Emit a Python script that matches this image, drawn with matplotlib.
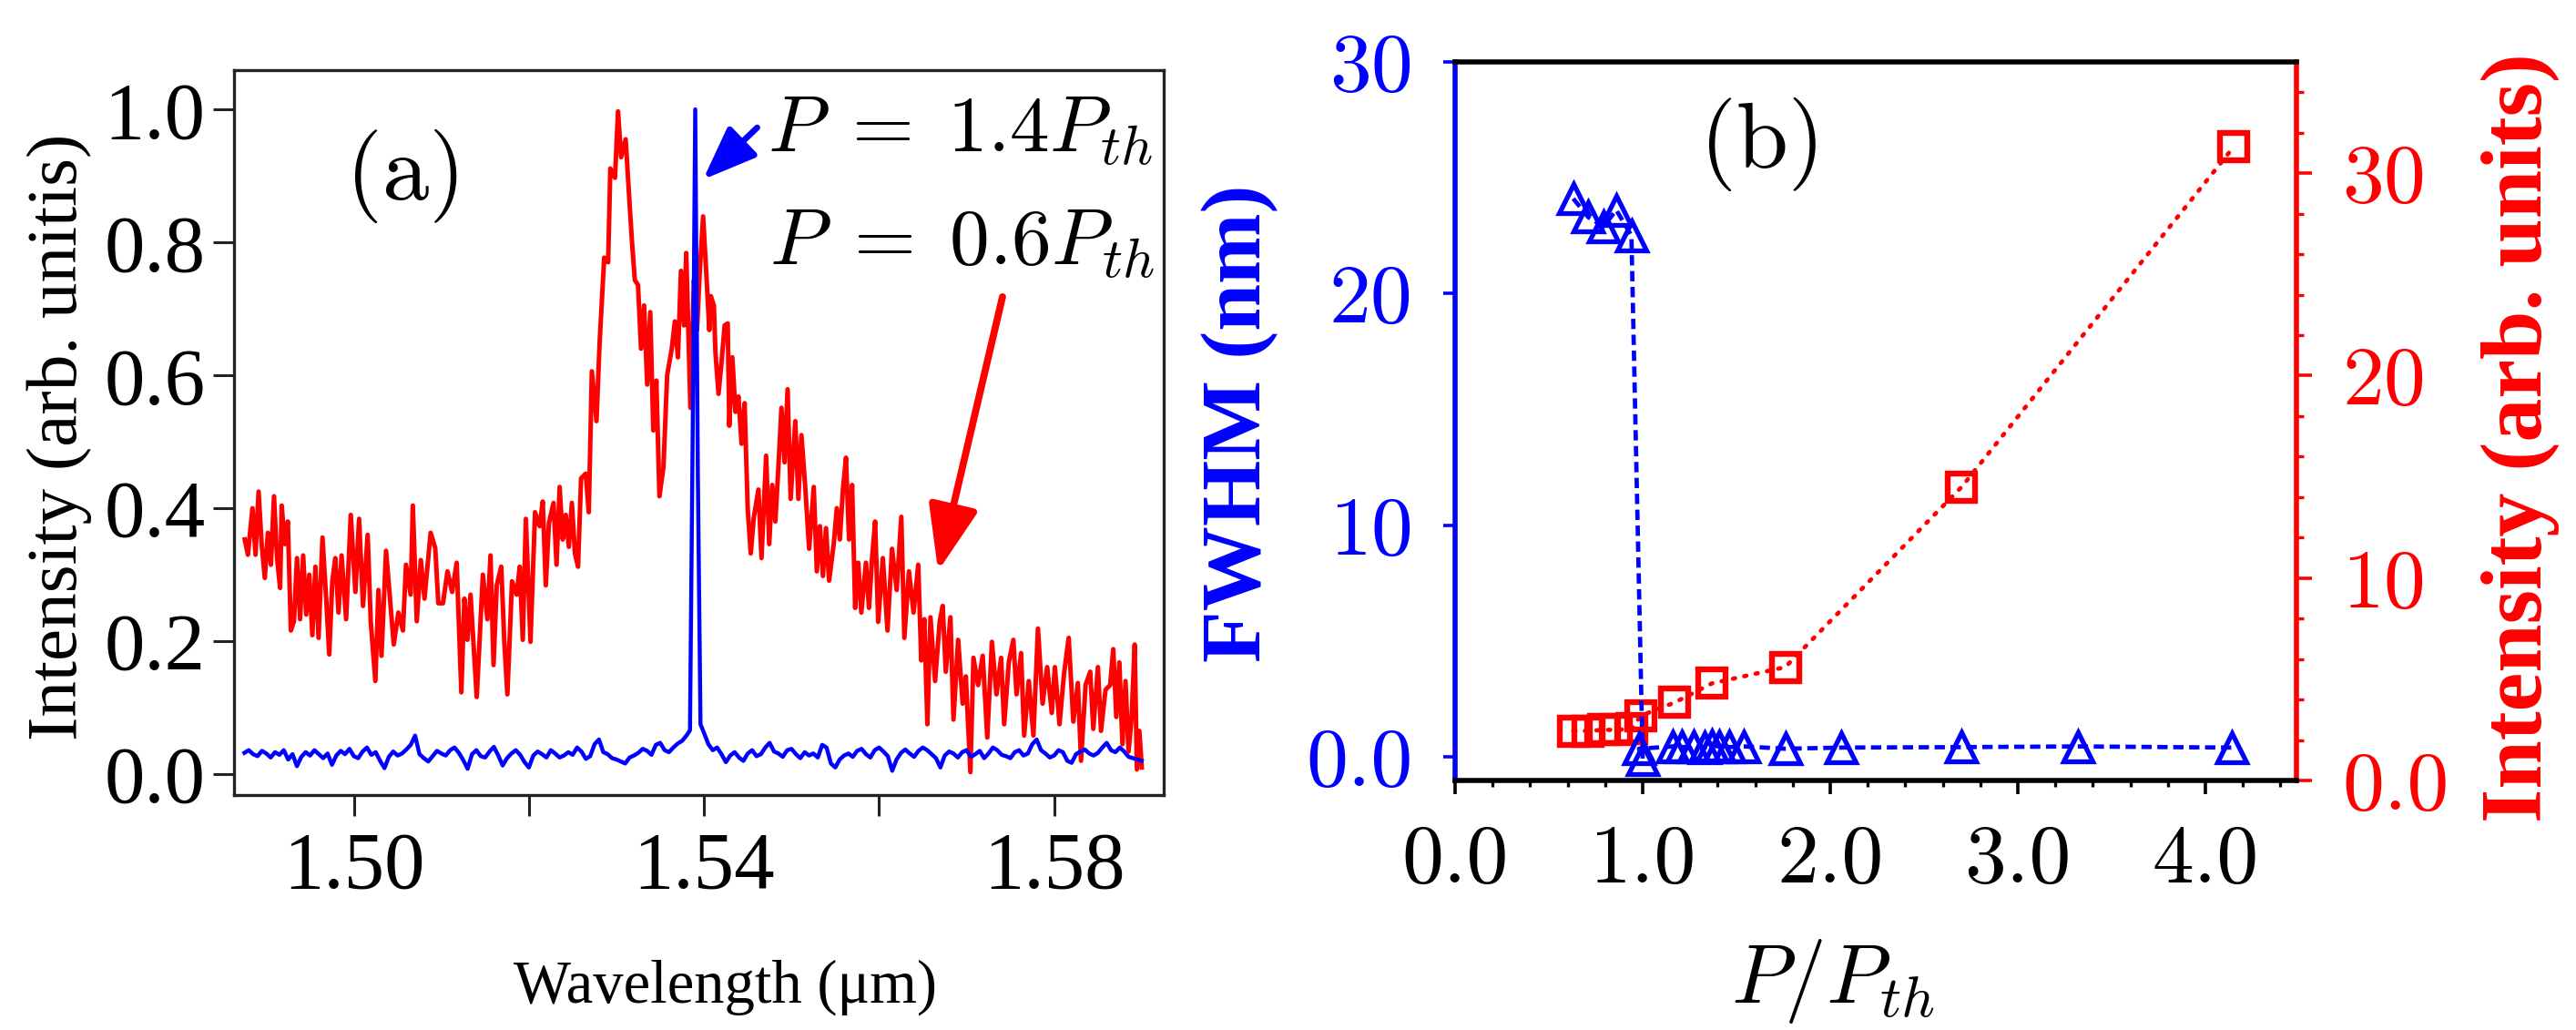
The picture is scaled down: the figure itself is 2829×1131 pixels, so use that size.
import matplotlib.pyplot as plt
from matplotlib.ticker import MultipleLocator

plt.rcParams['mathtext.fontset'] = 'cm'

# ---- panel (a): emission spectra ----
red_wl = [1.48754, 1.48790, 1.48842, 1.48877, 1.48912, 1.48947, 1.48983, 1.49018, 1.49053, 1.49088,
          1.49123, 1.49158, 1.49176, 1.49211, 1.49246, 1.49281, 1.49316, 1.49351, 1.49386, 1.49421,
          1.49456, 1.49491, 1.49526, 1.49561, 1.49597, 1.49642, 1.49684, 1.49719, 1.49754, 1.49789,
          1.49825, 1.49860, 1.49912, 1.49965, 1.50018, 1.50060, 1.50105, 1.50158, 1.50193, 1.50246,
          1.50281, 1.50316, 1.50368, 1.50421, 1.50456, 1.50509, 1.50561, 1.50596, 1.50649, 1.50674,
          1.50719, 1.50765, 1.50807, 1.50877, 1.50930, 1.50965, 1.51018, 1.51070, 1.51123, 1.51175,
          1.51228, 1.51263, 1.51298, 1.51333, 1.51404, 1.51474, 1.51526, 1.51561, 1.51596, 1.51632,
          1.51684, 1.51719, 1.51754, 1.51807, 1.51860, 1.51895, 1.51930, 1.51965, 1.52018, 1.52070,
          1.52123, 1.52158, 1.52193, 1.52228, 1.52281, 1.52316, 1.52351, 1.52386, 1.52421, 1.52456,
          1.52491, 1.52526, 1.52561, 1.52596, 1.52649, 1.52684, 1.52719, 1.52772, 1.52807, 1.52860,
          1.52905, 1.52930, 1.52983, 1.53018, 1.53053, 1.53105, 1.53175, 1.53210, 1.53246, 1.53281,
          1.53316, 1.53351, 1.53386, 1.53421, 1.53456, 1.53491, 1.53537, 1.53579, 1.53632, 1.53667,
          1.53702, 1.53737, 1.53772, 1.53797, 1.53845, 1.53885, 1.53920, 1.53955, 1.53990, 1.54025,
          1.54061, 1.54078, 1.54113, 1.54131, 1.54166, 1.54201, 1.54236, 1.54271, 1.54289, 1.54324,
          1.54359, 1.54394, 1.54429, 1.54464, 1.54499, 1.54534, 1.54569, 1.54622, 1.54657, 1.54710,
          1.54745, 1.54780, 1.54815, 1.54850, 1.54885, 1.54920, 1.54955, 1.54990, 1.55043, 1.55078,
          1.55113, 1.55155, 1.55201, 1.55254, 1.55289, 1.55324, 1.55359, 1.55394, 1.55429, 1.55482,
          1.55517, 1.55552, 1.55587, 1.55622, 1.55657, 1.55692, 1.55727, 1.55762, 1.55797, 1.55850,
          1.55885, 1.55920, 1.55955, 1.55990, 1.56043, 1.56096, 1.56148, 1.56201, 1.56254, 1.56289,
          1.56341, 1.56394, 1.56447, 1.56482, 1.56517, 1.56552, 1.56587, 1.56640, 1.56692, 1.56727,
          1.56762, 1.56815, 1.56850, 1.56903, 1.56955, 1.56991, 1.57043, 1.57078, 1.57131, 1.57184,
          1.57236, 1.57289, 1.57341, 1.57394, 1.57429, 1.57482, 1.57534, 1.57570, 1.57622, 1.57657,
          1.57710, 1.57763, 1.57815, 1.57868, 1.57920, 1.57973, 1.58008, 1.58061, 1.58113, 1.58166,
          1.58219, 1.58271, 1.58307, 1.58359, 1.58412, 1.58447, 1.58500, 1.58535, 1.58587, 1.58640,
          1.58675, 1.58710, 1.58745, 1.58780, 1.58815, 1.58850, 1.58885, 1.58920, 1.58945, 1.58973,
          1.59001]
red_int = [0.353, 0.330, 0.400, 0.330, 0.425, 0.346, 0.295, 0.363, 0.315, 0.418,
           0.325, 0.280, 0.404, 0.346, 0.380, 0.216, 0.230, 0.325, 0.233, 0.329,
           0.240, 0.300, 0.209, 0.312, 0.205, 0.356, 0.264, 0.180, 0.290, 0.325,
           0.243, 0.329, 0.233, 0.390, 0.274, 0.384, 0.253, 0.360, 0.230, 0.140,
           0.277, 0.178, 0.336, 0.250, 0.195, 0.243, 0.216, 0.315, 0.270, 0.404,
           0.230, 0.322, 0.264, 0.363, 0.340, 0.257, 0.257, 0.305, 0.274, 0.318,
           0.123, 0.264, 0.202, 0.270, 0.116, 0.300, 0.233, 0.329, 0.164, 0.284,
           0.312, 0.199, 0.120, 0.290, 0.270, 0.312, 0.202, 0.384, 0.199, 0.394,
           0.373, 0.410, 0.284, 0.377, 0.408, 0.315, 0.432, 0.353, 0.390, 0.342,
           0.408, 0.332, 0.312, 0.445, 0.452, 0.394, 0.606, 0.531, 0.647, 0.777,
           0.770, 0.911, 0.897, 0.997, 0.928, 0.955, 0.805, 0.743, 0.736, 0.640,
           0.705, 0.586, 0.695, 0.517, 0.592, 0.418, 0.462, 0.600, 0.640, 0.681,
           0.627, 0.757, 0.675, 0.784, 0.551, 0.743, 0.668, 0.764, 0.839, 0.757,
           0.668, 0.719, 0.705, 0.634, 0.572, 0.620, 0.675, 0.678, 0.524, 0.627,
           0.545, 0.568, 0.497, 0.558, 0.400, 0.332, 0.386, 0.428, 0.325, 0.479,
           0.346, 0.435, 0.380, 0.462, 0.551, 0.469, 0.579, 0.414, 0.531, 0.414,
           0.510, 0.435, 0.339, 0.432, 0.305, 0.373, 0.298, 0.370, 0.291, 0.346,
           0.400, 0.353, 0.428, 0.476, 0.353, 0.435, 0.250, 0.318, 0.243, 0.318,
           0.250, 0.325, 0.380, 0.229, 0.325, 0.216, 0.339, 0.277, 0.387, 0.205,
           0.305, 0.243, 0.315, 0.171, 0.233, 0.075, 0.236, 0.140, 0.229, 0.253,
           0.154, 0.236, 0.082, 0.202, 0.106, 0.147, 0.003, 0.175, 0.134, 0.178,
           0.055, 0.199, 0.120, 0.175, 0.075, 0.168, 0.202, 0.120, 0.182, 0.058,
           0.140, 0.058, 0.219, 0.106, 0.161, 0.092, 0.161, 0.075, 0.151, 0.205,
           0.079, 0.137, 0.020, 0.134, 0.154, 0.068, 0.161, 0.065, 0.127, 0.134,
           0.188, 0.086, 0.168, 0.045, 0.140, 0.034, 0.086, 0.195, 0.007, 0.065,
           0.010]

blue_wl = [1.4875, 1.4880, 1.4885, 1.4890, 1.4895, 1.4900, 1.4905, 1.4910, 1.4915, 1.4920,
           1.4925, 1.4930, 1.4935, 1.4940, 1.4945, 1.4950, 1.4955, 1.4960, 1.4965, 1.4970,
           1.4975, 1.4980, 1.4985, 1.4990, 1.4995, 1.5000, 1.5005, 1.5010, 1.5015, 1.5020,
           1.5025, 1.5030, 1.5035, 1.5040, 1.5045, 1.5050, 1.5055, 1.5060, 1.5065, 1.5070,
           1.5075, 1.5080, 1.5085, 1.5090, 1.5095, 1.5100, 1.5105, 1.5110, 1.5115, 1.5120,
           1.5125, 1.5130, 1.5135, 1.5140, 1.5145, 1.5150, 1.5155, 1.5160, 1.5165, 1.5170,
           1.5175, 1.5180, 1.5185, 1.5190, 1.5195, 1.5200, 1.5205, 1.5210, 1.5215, 1.5220,
           1.5225, 1.5230, 1.5235, 1.5240, 1.5245, 1.5250, 1.5255, 1.5260, 1.5265, 1.5270,
           1.5275, 1.5280, 1.5285, 1.5290, 1.5295, 1.5300, 1.5305, 1.5310, 1.5315, 1.5320,
           1.5325, 1.5330, 1.5335, 1.5340, 1.5345, 1.5350, 1.5355, 1.5360, 1.5365, 1.5370,
           1.5375, 1.5380, 1.5384, 1.5387, 1.5390, 1.5393, 1.5396,
           1.5400, 1.5405, 1.5410, 1.5415, 1.5420, 1.5425, 1.5430, 1.5435, 1.5440, 1.5445, 1.5450,
           1.5455, 1.5460, 1.5465, 1.5470, 1.5475, 1.5480, 1.5485, 1.5490, 1.5495, 1.5500,
           1.5505, 1.5510, 1.5515, 1.5520, 1.5525, 1.5530, 1.5535, 1.5540, 1.5545, 1.5550,
           1.5555, 1.5560, 1.5565, 1.5570, 1.5575, 1.5580, 1.5585, 1.5590, 1.5595, 1.5600,
           1.5605, 1.5610, 1.5615, 1.5620, 1.5625, 1.5630, 1.5635, 1.5640, 1.5645, 1.5650,
           1.5655, 1.5660, 1.5665, 1.5670, 1.5675, 1.5680, 1.5685, 1.5690, 1.5695, 1.5700,
           1.5705, 1.5710, 1.5715, 1.5720, 1.5725, 1.5730, 1.5735, 1.5740, 1.5745, 1.5750,
           1.5755, 1.5760, 1.5765, 1.5770, 1.5775, 1.5780, 1.5785, 1.5790, 1.5795, 1.5800,
           1.5805, 1.5810, 1.5815, 1.5820, 1.5825, 1.5830, 1.5835, 1.5840, 1.5845, 1.5850,
           1.5855, 1.5860, 1.5865, 1.5870, 1.5875, 1.5880, 1.5885, 1.5890, 1.5895, 1.5900]
blue_int = [0.032, 0.036, 0.030, 0.027, 0.035, 0.031, 0.025, 0.033, 0.029, 0.036,
            0.022, 0.030, 0.012, 0.026, 0.033, 0.028, 0.036, 0.030, 0.024, 0.031,
            0.014, 0.028, 0.035, 0.030, 0.038, 0.027, 0.024, 0.034, 0.040, 0.029,
            0.033, 0.020, 0.009, 0.026, 0.034, 0.028, 0.031, 0.037, 0.044, 0.058,
            0.030, 0.024, 0.019, 0.027, 0.035, 0.031, 0.028, 0.036, 0.040, 0.032,
            0.021, 0.008, 0.030, 0.036, 0.027, 0.025, 0.034, 0.041, 0.028, 0.013,
            0.024, 0.031, 0.036, 0.029, 0.018, 0.010, 0.028, 0.034, 0.030, 0.025,
            0.036, 0.031, 0.025, 0.028, 0.033, 0.029, 0.040, 0.034, 0.023, 0.027,
            0.045, 0.052, 0.033, 0.030, 0.024, 0.022, 0.019, 0.016, 0.025, 0.028,
            0.032, 0.038, 0.035, 0.029, 0.044, 0.047, 0.036, 0.033, 0.040, 0.046,
            0.050, 0.058, 0.066, 0.500, 1.000, 0.450, 0.075,
            0.062, 0.045, 0.036, 0.040, 0.030, 0.018, 0.028, 0.033, 0.025, 0.020, 0.031,
            0.036, 0.027, 0.030, 0.040, 0.047, 0.034, 0.031, 0.026, 0.036, 0.038,
            0.030, 0.024, 0.033, 0.028, 0.031, 0.025, 0.044, 0.040, 0.016, 0.010,
            0.022, 0.028, 0.031, 0.026, 0.035, 0.038, 0.030, 0.025, 0.036, 0.040,
            0.034, 0.027, 0.005, 0.022, 0.032, 0.037, 0.031, 0.026, 0.035, 0.040,
            0.036, 0.030, 0.024, 0.010, 0.028, 0.034, 0.031, 0.025, 0.033, 0.036,
            0.026, 0.030, 0.035, 0.024, 0.031, 0.040, 0.036, 0.029, 0.027, 0.024,
            0.033, 0.036, 0.028, 0.031, 0.045, 0.052, 0.036, 0.031, 0.025, 0.028,
            0.036, 0.033, 0.020, 0.017, 0.030, 0.034, 0.037, 0.031, 0.028, 0.032,
            0.040, 0.047, 0.036, 0.033, 0.040, 0.034, 0.026, 0.024, 0.022, 0.020]

# ---- panel (b): FWHM and intensity versus pump ----
fwhm_p = [0.63, 0.71, 0.79, 0.86, 0.94, 1.00, 0.98, 1.16, 1.21, 1.27, 1.33, 1.37,
          1.41, 1.46, 1.54, 1.76, 2.06, 2.70, 3.32, 4.14]
fwhm_nm = [24.1, 23.3, 22.9, 23.6, 22.5, -0.1, 0.35, 0.45, 0.42, 0.45, 0.40, 0.48,
           0.45, 0.42, 0.45, 0.35, 0.40, 0.42, 0.45, 0.40]
int_p = [0.63, 0.71, 0.79, 0.86, 0.94, 0.99, 1.17, 1.37, 1.76, 2.70, 4.15]
int_au = [2.45, 2.45, 2.50, 2.50, 2.55, 3.20, 3.85, 4.80, 5.60, 14.5, 31.3]

a_xticks = [1.50, 1.52, 1.54, 1.56, 1.58]
a_xlabels = ['1.50', '', '1.54', '', '1.58']
a_yticks = [0.0, 0.2, 0.4, 0.6, 0.8, 1.0]
b_xticks = [0.0, 1.0, 2.0, 3.0, 4.0]
b_yticks = [0, 10, 20, 30]
b_ylabels = ['0.0', '10', '20', '30']

fig = plt.figure(figsize=(14.145, 5.655), dpi=200)

# panel (a)
axa = fig.add_axes([0.0908, 0.2281, 0.3609, 0.7038])
axa.plot(red_wl, red_int, color='red', lw=1.8)
axa.plot(blue_wl, blue_int, color='blue', lw=1.6)
axa.set_xlim(1.4863, 1.5925)
axa.set_ylim(-0.0315, 1.059)
axa.set_xticks(a_xticks)
axa.set_xticklabels(a_xlabels)
axa.set_yticks(a_yticks)
axa.set_yticklabels(['%.1f' % v for v in a_yticks])
axa.tick_params(direction='out', length=8.3, width=1.1, labelsize=32,
                labelfontfamily='Liberation Serif', color='#222222')
axa.tick_params(axis='x', pad=6)
axa.tick_params(axis='y', pad=3)
for s in axa.spines.values():
    s.set_linewidth(1.2)
    s.set_color('#222222')

axa.text(0.185, 0.854, '(a)', transform=axa.transAxes, fontsize=37,
         family='cmr10', ha='center', va='center')
axa.text(0.989, 0.887, r'$P\;=\;1.4P_{th}$', transform=axa.transAxes, fontsize=31.5,
         ha='right', va='baseline')
axa.text(0.991, 0.7305, r'$P\;=\;0.6P_{th}$', transform=axa.transAxes, fontsize=31.5,
         ha='right', va='baseline')
axa.annotate('', xy=(1.5399, 0.8945), xytext=(1.54608, 0.9726),
             arrowprops=dict(arrowstyle='-|>,head_length=0.9,head_width=0.35',
                             mutation_scale=20, color='blue', lw=2.4,
                             shrinkA=0, shrinkB=0))
axa.annotate('', xy=(1.56674, 0.3055), xytext=(1.5741, 0.718),
             arrowprops=dict(arrowstyle='-|>,head_length=1.0,head_width=0.38',
                             mutation_scale=22, color='red', lw=2.8,
                             shrinkA=0, shrinkB=0))

fig.text(0.02298, 0.5756, 'Intensity (arb. unitis)', rotation=90, fontsize=28.5,
         family='Liberation Serif', ha='center', va='center')
fig.text(0.2817, 0.0416, 'Wavelength (\u03bcm)', fontsize=24,
         family='Liberation Serif', ha='center', va='center')

# panel (b)
axb = fig.add_axes([0.56486, 0.24226, 0.32662, 0.69761])
ax2 = axb.twinx()
axb.set_zorder(ax2.get_zorder() + 1)
axb.patch.set_visible(False)

ax2.plot(int_p, int_au, color='red', lw=1.7, ls=(0, (0.5, 2.2)),
         dash_capstyle='round', marker='s', ms=10.5, mfc='none', mec='red',
         mew=2.3, clip_on=False)
axb.plot(fwhm_p, fwhm_nm, color='blue', lw=1.7, ls=(0, (2.4, 1.3)),
         marker='^', ms=11.5, mfc='none', mec='blue', mew=1.9, clip_on=False)

axb.set_xlim(0, 4.485)
axb.set_ylim(-1.02, 30)
ax2.set_ylim(0, 35.5)

axb.set_xticks(b_xticks)
axb.set_xticklabels(['%.1f' % v for v in b_xticks])
axb.xaxis.set_minor_locator(MultipleLocator(0.2))
axb.set_yticks(b_yticks)
axb.set_yticklabels(b_ylabels)
ax2.set_yticks(b_yticks)
ax2.set_yticklabels(b_ylabels)
ax2.yaxis.set_minor_locator(MultipleLocator(2))

axb.tick_params(axis='x', which='major', direction='out', length=5.4, width=1.3,
                labelsize=33, labelfontfamily='cmr10', pad=12)
axb.tick_params(axis='x', which='minor', direction='out', length=2.6, width=1.2)
axb.tick_params(axis='y', which='major', direction='out', length=4.7, width=1.3,
                labelsize=33, labelfontfamily='cmr10', colors='blue', pad=12)
ax2.tick_params(axis='y', which='major', direction='out', length=6, width=1.3,
                labelsize=33, labelfontfamily='cmr10', colors='red', pad=12)
ax2.tick_params(axis='y', which='minor', direction='out', length=3, width=1.2,
                colors='red')

for name in ['top', 'bottom', 'left']:
    axb.spines[name].set_linewidth(2.0)
axb.spines['left'].set_color('blue')
axb.spines['right'].set_visible(False)
for name in ['top', 'bottom', 'left']:
    ax2.spines[name].set_visible(False)
ax2.spines['right'].set_color('red')
ax2.spines['right'].set_linewidth(2.0)

axb.text(0.365, 0.885, '(b)', transform=axb.transAxes, fontsize=37,
         family='cmr10', ha='center', va='center')

fig.text(0.4814, 0.5889, 'FWHM (nm)', rotation=90, fontsize=33.5, color='blue',
         family='Liberation Serif', weight='bold', ha='center', va='center')
fig.text(0.9784, 0.5747, 'Intensity (arb. units)', rotation=90, fontsize=34.5,
         color='red', family='Liberation Serif', weight='bold',
         ha='center', va='center')
fig.text(0.7116, 0.0469, r'$P/P_{th}$', fontsize=33, ha='center', va='center')

fig.savefig('out.png', dpi=200)
